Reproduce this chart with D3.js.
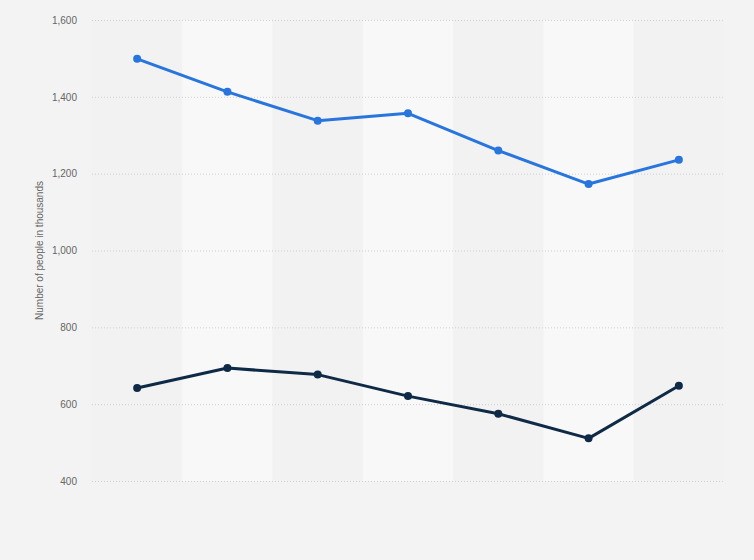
<!DOCTYPE html>
<html><head><meta charset="utf-8">
<script src="https://cdn.jsdelivr.net/npm/d3@7"></script>
<style>
html,body{margin:0;padding:0;background:#f3f3f3;}
svg{display:block;font-family:"Liberation Sans", Arial, sans-serif;}
</style></head>
<body>
<svg id="chart" width="754" height="560"></svg>
<script>
const categories = ["1","2","3","4","5","6","7"];
const seriesA = [1499, 1413, 1338, 1357, 1260, 1173, 1236];
const seriesB = [642, 694, 677, 621, 575, 511, 648];
const yTicks = [400, 600, 800, 1000, 1200, 1400, 1600];
const yLabel = "Number of people in thousands";

const svg = d3.select("#chart");
const W = 754, H = 560;
const m = {left: 92, right: 30, top: 20, bottom: 79};
const iw = W - m.left - m.right, ih = H - m.top - m.bottom;

svg.append("rect").attr("width", W).attr("height", H).attr("fill", "#f3f3f3");

const x = d3.scaleBand().domain(categories).range([m.left, m.left + iw]).padding(0);
const y = d3.scaleLinear().domain([400, 1600]).range([m.top + ih, m.top]);

// alternating bands
svg.append("g").selectAll("rect").data(categories).join("rect")
  .attr("x", d => x(d)).attr("width", x.bandwidth())
  .attr("y", m.top).attr("height", ih)
  .attr("fill", (d, i) => i % 2 === 1 ? "#f8f8f8" : "#f2f2f2");

// grid + y axis
const yAxis = d3.axisLeft(y).tickValues(yTicks).tickSize(-iw).tickPadding(15)
  .tickFormat(d3.format(","));
const ga = svg.append("g").attr("transform", `translate(${m.left},0)`).call(yAxis);
ga.select(".domain").remove();
ga.selectAll(".tick line").attr("stroke", "#cfcfcf").attr("stroke-dasharray", "1,2").attr("stroke-width", 1);
ga.selectAll(".tick text").attr("fill", "#666").attr("font-size", 10);

svg.append("text")
  .attr("transform", `translate(43,${m.top + ih / 2}) rotate(-90)`)
  .attr("text-anchor", "middle").attr("fill", "#666").attr("font-size", 10)
  .text(yLabel);

const line = d3.line().x((d, i) => x(categories[i]) + x.bandwidth() / 2).y(d => y(d));

function drawSeries(vals, color) {
  svg.append("path").datum(vals).attr("d", line)
    .attr("fill", "none").attr("stroke", color).attr("stroke-width", 3)
    .attr("stroke-linejoin", "round").attr("stroke-linecap", "round");
  svg.append("g").selectAll("circle").data(vals).join("circle")
    .attr("cx", (d, i) => x(categories[i]) + x.bandwidth() / 2)
    .attr("cy", d => y(d)).attr("r", 4).attr("fill", color);
}
drawSeries(seriesA, "#2876dd");
drawSeries(seriesB, "#0e2a47");
</script>
</body></html>
